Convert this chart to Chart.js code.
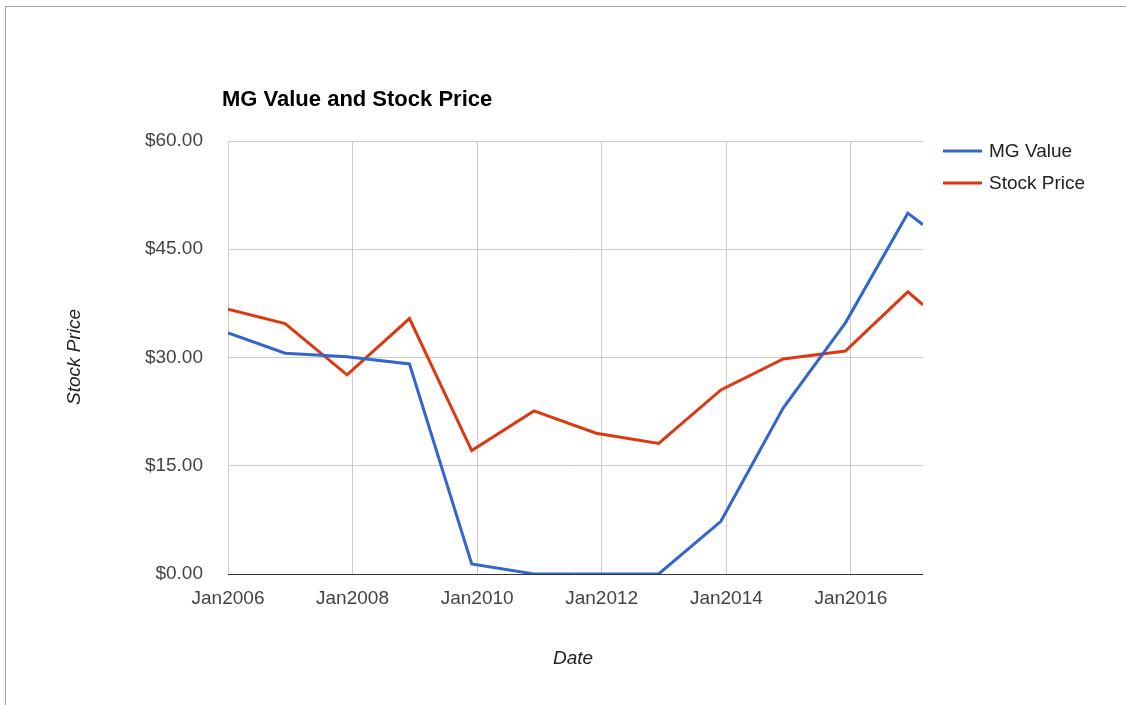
<!DOCTYPE html>
<html>
<head>
<meta charset="utf-8">
<script src="https://cdn.jsdelivr.net/npm/chart.js@4.4.1/dist/chart.umd.min.js"></script>
<style>
  html, body { margin: 0; padding: 0; background: #fff; }
  #wrap { position: relative; width: 1126px; height: 705px; overflow: hidden; }
  #frame { position: absolute; left: 5px; top: 6px; right: -2px; bottom: -2px; border-left: 1px solid #a6a6a6; border-top: 1px solid #a6a6a6; pointer-events: none; }
  canvas { position: absolute; left: 0; top: 0; }
</style>
</head>
<body>
<div id="wrap">
  <canvas id="c" width="1126" height="705"></canvas>
  <div id="frame"></div>
</div>
<script>
// ---- Data ----
const dates = ['2006-01-01','2006-12-02','2007-11-30','2008-11-30','2009-11-30','2010-11-30','2011-11-30','2012-11-30','2013-11-30','2014-11-30','2015-11-30','2016-11-30','2017-02-27'];
const mgValue    = [33.4, 30.6, 30.1, 29.1, 1.4, 0, 0, 0, 7.3, 23.0, 34.8, 50.0, 48.4];
const stockPrice = [36.7, 34.7, 27.6, 35.4, 17.1, 22.6, 19.5, 18.1, 25.5, 29.8, 30.9, 39.1, 37.3];
const xTickDates = ['2006-01-01','2008-01-01','2010-01-01','2012-01-01','2014-01-01','2016-01-01'];
const yTicks = [0, 15, 30, 45, 60];
const seriesNames = ['MG Value', 'Stock Price'];
const seriesColors = ['#3366cc', '#dc3912'];
const chartTitle = 'MG Value and Stock Price';
const xTitle = 'Date';
const yTitle = 'Stock Price';
const monthNames = ['Jan','Feb','Mar','Apr','May','Jun','Jul','Aug','Sep','Oct','Nov','Dec'];

const toMs = s => Date.parse(s + 'T00:00:00Z');
const FONT = '"Liberation Sans", Arial, Helvetica, sans-serif';

const points = arr => arr.map((v, i) => ({ x: toMs(dates[i]), y: v }));

const decorPlugin = {
  id: 'decor',
  afterDraw(chart) {
    const ctx = chart.ctx;
    ctx.save();
    // Title
    ctx.fillStyle = '#000';
    ctx.font = 'bold 22px ' + FONT;
    ctx.textAlign = 'left';
    ctx.textBaseline = 'alphabetic';
    ctx.fillText(chartTitle, 222, 106);
    // Legend
    ctx.font = '19px ' + FONT;
    ctx.textBaseline = 'middle';
    seriesNames.forEach((name, i) => {
      const y = 151 + i * 32;
      ctx.strokeStyle = seriesColors[i];
      ctx.lineWidth = 3;
      ctx.beginPath();
      ctx.moveTo(943, y);
      ctx.lineTo(982, y);
      ctx.stroke();
      ctx.fillStyle = '#222';
      ctx.fillText(name, 989, y + 1);
    });
    // Axis titles
    ctx.font = 'italic 19px ' + FONT;
    ctx.fillStyle = '#222';
    ctx.textAlign = 'center';
    ctx.fillText(xTitle, 573, 659);
    ctx.translate(75, 357);
    ctx.rotate(-Math.PI / 2);
    ctx.fillText(yTitle, 0, 0);
    ctx.restore();
  }
};

new Chart(document.getElementById('c'), {
  type: 'line',
  data: {
    datasets: [
      { label: seriesNames[0], data: points(mgValue), borderColor: seriesColors[0], backgroundColor: seriesColors[0], borderWidth: 3, pointRadius: 0, tension: 0, fill: false },
      { label: seriesNames[1], data: points(stockPrice), borderColor: seriesColors[1], backgroundColor: seriesColors[1], borderWidth: 3, pointRadius: 0, tension: 0, fill: false }
    ]
  },
  options: {
    responsive: false,
    animation: false,
    devicePixelRatio: 1,
    layout: { padding: { left: 0, right: 203, top: 141, bottom: 71 } },
    plugins: { legend: { display: false }, title: { display: false }, tooltip: { enabled: false } },
    scales: {
      x: {
        type: 'linear',
        min: toMs(dates[0]),
        max: toMs(dates[dates.length - 1]),
        afterBuildTicks: s => { s.ticks = xTickDates.map(d => ({ value: toMs(d) })); },
        afterFit: s => { s.height = 60; },
        grid: { color: '#cccccc', lineWidth: 1, drawTicks: false },
        border: { display: false },
        ticks: {
          padding: 13,
          color: '#444',
          font: { family: FONT, size: 19 },
          maxRotation: 0,
          autoSkip: false,
          callback: v => { const d = new Date(v); return monthNames[d.getUTCMonth()] + d.getUTCFullYear(); }
        }
      },
      y: {
        min: 0,
        max: 60,
        afterBuildTicks: s => { s.ticks = yTicks.map(v => ({ value: v })); },
        afterFit: s => { s.width = 228; },
        grid: { color: c => (c.tick && c.tick.value === 0) ? '#333333' : '#cccccc', lineWidth: 1, drawTicks: false },
        border: { display: false },
        ticks: {
          padding: 25,
          color: '#444',
          font: { family: FONT, size: 19 },
          callback: v => '$' + Number(v).toFixed(2)
        }
      }
    }
  },
  plugins: [decorPlugin]
});
</script>
</body>
</html>
